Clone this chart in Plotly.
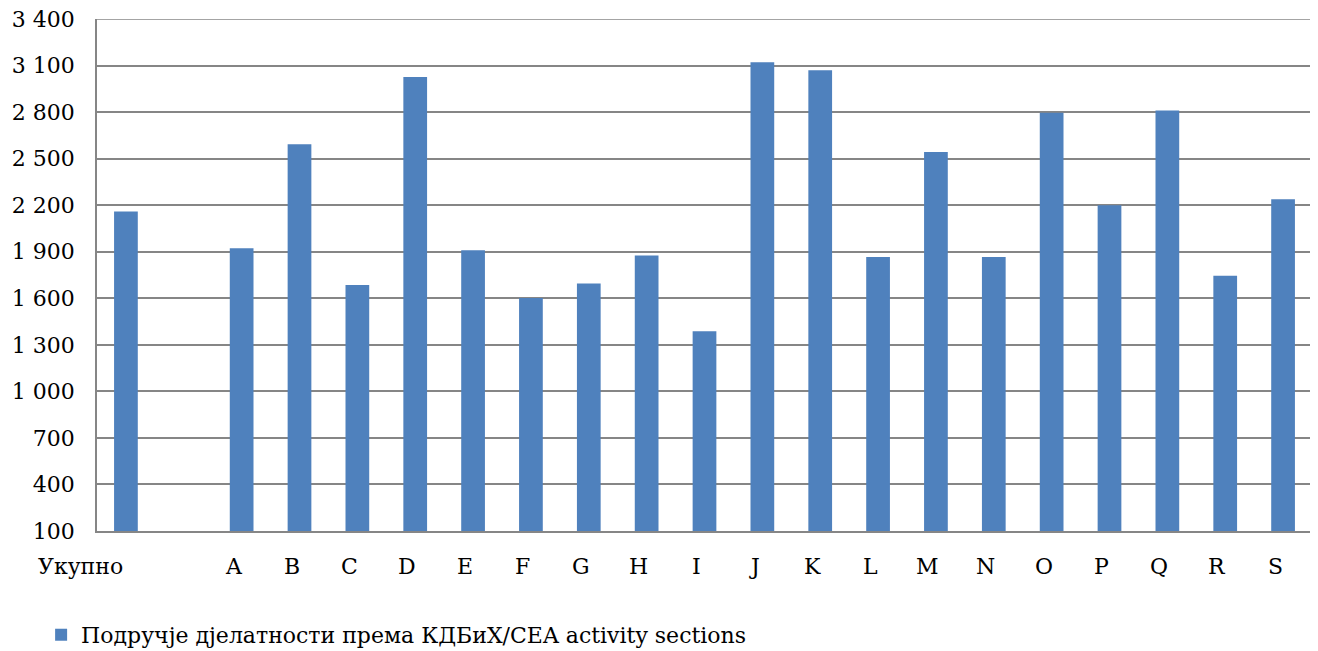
import plotly.graph_objects as go

categories = ["Укупно", " ", "A", "B", "C", "D", "E", "F", "G", "H", "I", "J",
              "K", "L", "M", "N", "O", "P", "Q", "R", "S"]
values = [2160, None, 1923, 2593, 1686, 3026, 1910, 1602, 1695, 1875, 1388, 3121,
          3069, 1866, 2542, 1866, 2795, 2200, 2811, 1745, 2239]
series_name = "Подручје дјелатности према КДБиХ/CEA activity sections"
y_ticks = [100, 400, 700, 1000, 1300, 1600, 1900, 2200, 2500, 2800, 3100, 3400]

FONT = "DejaVu Serif"
GRID = "#868686"
FS = 22

fig = go.Figure()
fig.add_trace(go.Bar(
    x=categories, y=[None if v is None else v - 100 for v in values], base=100,
    name=series_name, marker=dict(color="#4F81BD", line=dict(width=0)),
    width=0.41, showlegend=True,
))

annotations = []
for c in categories:
    if c.strip() == "":
        continue
    shift = -45 if c == "Укупно" else -8
    annotations.append(dict(
        x=c, xref="x", y=0, yref="paper", yanchor="middle", yshift=-35,
        xshift=shift, text=c, showarrow=False,
        font=dict(family=FONT, size=FS, color="#000000"),
    ))

# page has an 8px body margin, so the figure is sized/offset to compensate
fig.update_layout(
    width=1310, height=643,
    margin=dict(l=89, r=6, t=11, b=120, autoexpand=False),
    paper_bgcolor="white", plot_bgcolor="white",
    separators=", ",
    font=dict(family=FONT, size=FS, color="#000000"),
    bargap=0.59,
    annotations=annotations,
    legend=dict(
        orientation="h",
        x=-0.046, y=-0.203, xanchor="left", yanchor="middle",
        font=dict(family=FONT, size=FS, color="#000000"),
        itemwidth=30,
    ),
    xaxis=dict(
        type="category", categoryorder="array", categoryarray=categories,
        range=[-0.5, len(categories) - 0.5],
        showticklabels=False, showgrid=False, ticks="", automargin=False,
        showline=True, linecolor=GRID, linewidth=1.5,
    ),
    yaxis=dict(
        range=[y_ticks[0], y_ticks[-1]], tickvals=y_ticks, tickformat=",d",
        showgrid=True, gridcolor=GRID, gridwidth=1.5,
        showline=True, linecolor=GRID, linewidth=1.5, automargin=False,
        ticks="", ticklabelstandoff=16, zeroline=False,
        ticklabeloverflow="allow",
        tickfont=dict(family=FONT, size=FS, color="#000000"),
    ),
)
# top gridline at the upper end of the value axis
fig.add_shape(type="line", xref="paper", yref="y", x0=0, x1=1,
              y0=y_ticks[-1], y1=y_ticks[-1],
              line=dict(color=GRID, width=1.5), layer="below")

fig.write_html("out.html")
